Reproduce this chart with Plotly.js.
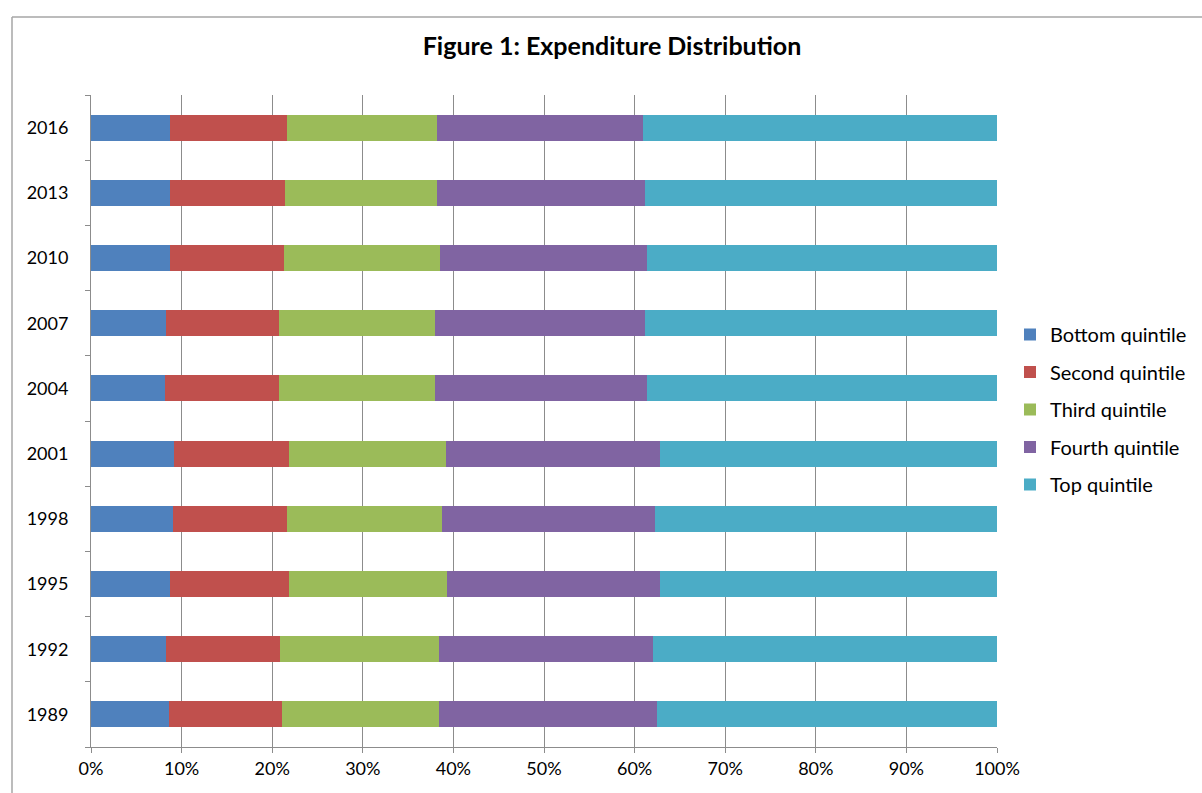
<!DOCTYPE html>
<html>
<head>
<meta charset="utf-8">
<script src="https://cdn.plot.ly/plotly-3.0.1.min.js"></script>
<style>html,body{margin:0;padding:0;background:#fff;}#chart{width:1202px;height:793px;}</style>
</head>
<body>
<div id="chart"></div>
<script>
const years = ["1989","1992","1995","1998","2001","2004","2007","2010","2013","2016"];
const seriesNames = ["Bottom quintile","Second quintile","Third quintile","Fourth quintile","Top quintile"];
const bottomQuintile = [8.6, 8.3, 8.7, 9.0, 9.2, 8.2, 8.3, 8.7, 8.7, 8.7];
const secondQuintile = [12.5, 12.6, 13.2, 12.6, 12.7, 12.6, 12.5, 12.6, 12.7, 12.9];
const thirdQuintile  = [17.3, 17.5, 17.4, 17.1, 17.3, 17.2, 17.2, 17.2, 16.8, 16.6];
const fourthQuintile = [24.1, 23.6, 23.5, 23.5, 23.6, 23.4, 23.1, 22.9, 23.0, 22.7];
const topQuintile    = [37.5, 38.0, 37.2, 37.8, 37.2, 38.6, 38.9, 38.6, 38.8, 39.1];
const xTickVals = [0,10,20,30,40,50,60,70,80,90,100];
const xTickText = ["0%","10%","20%","30%","40%","50%","60%","70%","80%","90%","100%"];

const colors = ["#4F81BD","#C0504D","#9BBB59","#8064A2","#4BACC6"];
const allSeries = [bottomQuintile, secondQuintile, thirdQuintile, fourthQuintile, topQuintile];

const W = 1202, H = 793;
const m = {l: 91, r: 205, t: 95, b: 46};
const pw = W - m.l - m.r, ph = H - m.t - m.b;
const px = v => (v - m.l) / pw;
const py = v => (H - m.b - v) / ph;

const font = "Lato, 'Noto Sans', sans-serif";

const traces = allSeries.map((vals, i) => ({
  type: "bar",
  orientation: "h",
  name: seriesNames[i],
  y: years,
  x: vals,
  legendgroup: "g" + i,
  marker: {color: colors[i], line: {width: 0}},
  hoverinfo: "name+x"
}));

const layout = {
  width: W, height: H,
  margin: m,
  paper_bgcolor: "#ffffff",
  plot_bgcolor: "#ffffff",
  barmode: "stack",
  bargap: 0.6,
  font: {family: font, size: 18, color: "#000000"},
  title: {
    text: "<b>Figure 1: Expenditure Distribution</b>",
    font: {family: font, size: 25, color: "#000000"},
    x: 612 / W, xanchor: "center", xref: "container",
    y: 1 - 46 / H, yanchor: "middle", yref: "container"
  },
  xaxis: {
    range: [0, 100],
    tickvals: xTickVals,
    ticktext: xTickText,
    showgrid: true,
    gridcolor: "#8C8C8C",
    gridwidth: 1,
    zeroline: false,
    showline: true,
    linecolor: "#8C8C8C",
    linewidth: 1,
    ticks: "outside",
    ticklen: 5,
    tickcolor: "#8C8C8C",
    automargin: false,
    tickfont: {family: font, size: 18, color: "#000000"},
    fixedrange: true
  },
  yaxis: {
    type: "category",
    categoryorder: "array",
    categoryarray: years,
    showgrid: false,
    zeroline: false,
    showline: true,
    linecolor: "#8C8C8C",
    linewidth: 1,
    ticks: "outside",
    tickson: "boundaries",
    ticklen: 5,
    tickcolor: "#8C8C8C",
    ticklabelstandoff: 18,
    automargin: false,
    tickfont: {family: font, size: 18, color: "#000000"},
    fixedrange: true
  },
  showlegend: true,
  legend: {
    xref: "container", yref: "container",
    x: 1010 / W, xanchor: "left",
    y: 1 - 315 / H, yanchor: "top",
    traceorder: "grouped",
    tracegroupgap: 8.5,
    itemwidth: 30,
    font: {family: font, size: 20, color: "#000000"},
    bgcolor: "rgba(0,0,0,0)"
  },
  shapes: [
    {type: "line", xref: "paper", yref: "paper", x0: px(12), x1: px(1202), y0: py(17), y1: py(17), line: {color: "#A6A6A6", width: 1.5}},
    {type: "line", xref: "paper", yref: "paper", x0: px(12), x1: px(12), y0: py(17), y1: py(793), line: {color: "#A6A6A6", width: 1.5}}
  ]
};

Plotly.newPlot("chart", traces, layout, {displayModeBar: false, staticPlot: true});
</script>
</body>
</html>
